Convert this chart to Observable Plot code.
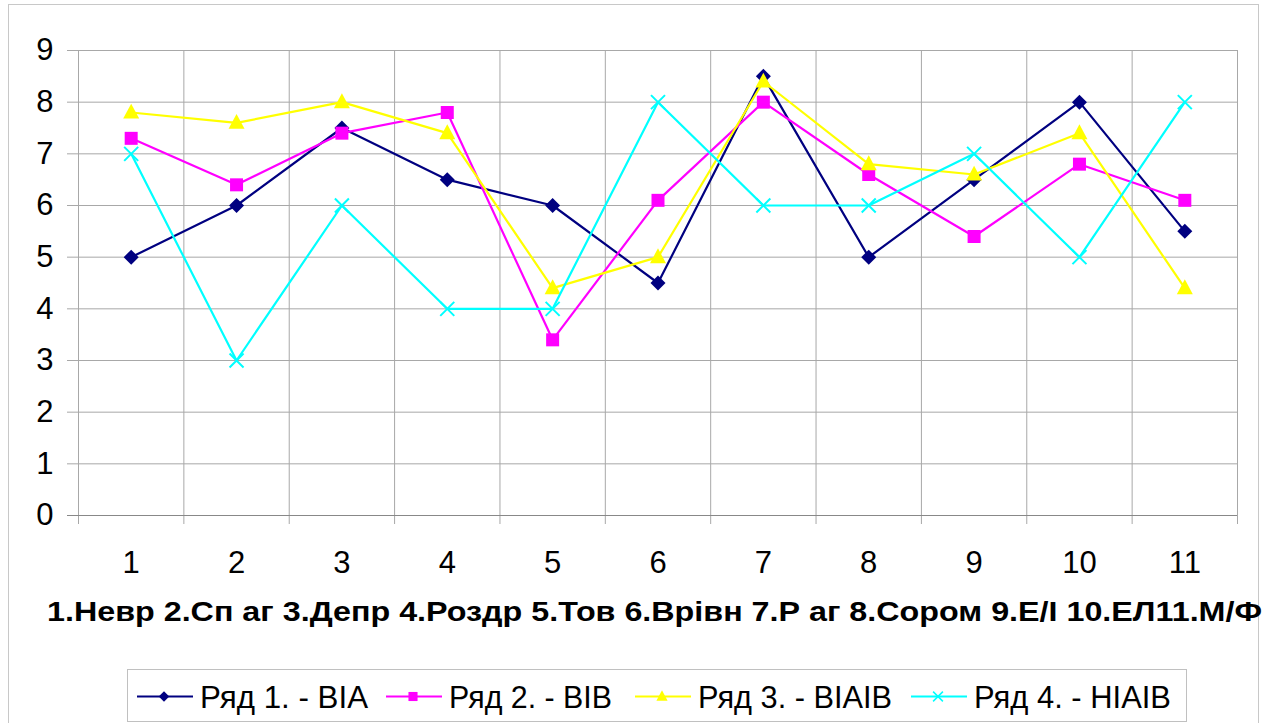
<!DOCTYPE html>
<html><head><meta charset="utf-8">
<script src="https://cdn.jsdelivr.net/npm/d3@7"></script>
<script src="https://cdn.jsdelivr.net/npm/@observablehq/plot@0.6"></script>
<style>
html,body{margin:0;padding:0;background:#fff;width:1267px;height:723px;overflow:hidden;font-family:"Liberation Sans",Arial,sans-serif;}
#frame{position:absolute;left:8px;top:4px;width:1251px;height:740px;border:1px solid #c8c8c8;box-sizing:border-box;}
#chart{position:absolute;left:0;top:0;}
#overlay{position:absolute;left:0;top:0;}
</style></head><body>
<div id="frame"></div>
<div id="chart"></div>
<svg id="overlay" width="1267" height="723"></svg>
<script>
// ---- data ----
const categories = [1, 2, 3, 4, 5, 6, 7, 8, 9, 10, 11];
const seriesNames = ["Ряд 1. - ВІА", "Ряд 2. - ВІВ", "Ряд 3. - ВІАІВ", "Ряд 4. - НІАІВ"];
const s1 = [5, 6, 7.5, 6.5, 6, 4.5, 8.5, 5, 6.5, 8, 5.5];
const s2 = [7.3, 6.4, 7.4, 7.8, 3.4, 6.1, 8, 6.6, 5.4, 6.8, 6.1];
const s3 = [7.8, 7.6, 8, 7.4, 4.4, 5, 8.4, 6.8, 6.6, 7.4, 4.4];
const s4 = [7, 3, 6, 4, 4, 8, 6, 6, 7, 5, 8];
const yTicks = [0, 1, 2, 3, 4, 5, 6, 7, 8, 9];
const xAxisTitle = "1.Невр 2.Сп аг 3.Депр 4.Роздр 5.Тов 6.Врівн 7.Р аг 8.Сором 9.Е/І 10.ЕЛ11.М/Ф";

// ---- styles ----
const colors = ["#000080", "#ff00ff", "#ffff00", "#00ffff"];
const symDiamond = {draw(ctx, size){const r=Math.sqrt(size/Math.PI); ctx.moveTo(0,-r); ctx.lineTo(r,0); ctx.lineTo(0,r); ctx.lineTo(-r,0); ctx.closePath();}};
const symSquare = {draw(ctx, size){const r=Math.sqrt(size/Math.PI); ctx.moveTo(-r,-r); ctx.lineTo(r,-r); ctx.lineTo(r,r); ctx.lineTo(-r,r); ctx.closePath();}};
const symTriangle = {draw(ctx, size){const r=Math.sqrt(size/Math.PI); ctx.moveTo(0,-r*1.1); ctx.lineTo(r,r*0.75); ctx.lineTo(-r,r*0.75); ctx.closePath();}};
const symTimes = {draw(ctx, size){const r=Math.sqrt(size/Math.PI); ctx.moveTo(-r,-r); ctx.lineTo(r,r); ctx.moveTo(r,-r); ctx.lineTo(-r,r);}};
const symbols = [symDiamond, symSquare, symTriangle, symTimes];
const radii = [7.5, 6.5, 8, 7];

const allSeries = [s1, s2, s3, s4];
const boundaries = [categories[0] - 0.5, ...categories.map(c => c + 0.5)];

const seriesMarks = allSeries.flatMap((vals, k) => {
  const rows = categories.map((c, i) => ({cat: c, val: vals[i]}));
  const dotOpts = k === 3
    ? {x: "cat", y: "val", symbol: symbols[k], r: radii[k], fill: "none", stroke: colors[k], strokeWidth: 2}
    : {x: "cat", y: "val", symbol: symbols[k], r: radii[k], fill: colors[k], stroke: "none"};
  return [
    Plot.line(rows, {x: "cat", y: "val", stroke: colors[k], strokeWidth: 2.2}),
    Plot.dot(rows, dotOpts)
  ];
});

const chart = Plot.plot({
  width: 1267, height: 580,
  marginLeft: 78, marginRight: 30, marginTop: 50, marginBottom: 65,
  style: {fontFamily: "'Liberation Sans', Arial, sans-serif", background: "transparent", color: "#000"},
  x: {domain: [boundaries[0], boundaries[boundaries.length - 1]], label: null},
  y: {domain: [0, 9], label: null},
  marks: [
    Plot.ruleY(yTicks.filter(t => t > 0), {stroke: "#a8a8a8", strokeWidth: 1, insetLeft: -11}),
    Plot.ruleX(boundaries, {stroke: "#a8a8a8", strokeWidth: 1, insetBottom: -9}),
    Plot.ruleY([0], {stroke: "#888", strokeWidth: 1, insetLeft: -11}),
    Plot.axisY({ticks: yTicks, tickSize: 0, tickPadding: 25, fontSize: 31, label: null}),
    Plot.axisX({ticks: categories, tickSize: 0, tickPadding: 35, fontSize: 31, label: null}),
    ...seriesMarks
  ]
});
// enlarge axis tick labels
d3.select(chart).selectAll('g[aria-label$="tick label"]').style("font-size", "31px")
  .selectAll("text").style("font-size", "31px");
document.getElementById("chart").appendChild(chart);

// ---- x-axis title & legend ----
const ov = d3.select("#overlay");
ov.append("text")
  .attr("x", 47).attr("y", 621)
  .attr("font-weight", "bold").attr("font-size", 28)
  .attr("textLength", 1215).attr("lengthAdjust", "spacingAndGlyphs")
  .attr("fill", "#000")
  .text(xAxisTitle);

ov.append("rect").attr("x", 127.5).attr("y", 669.5).attr("width", 1059).attr("height", 52)
  .attr("fill", "#fff").attr("stroke", "#c0c0c0");

const legendX = [137, 386, 635, 911];
const legendTextW = [168, 163, 194, 197];
const legendY = 696.5;
seriesNames.forEach((name, k) => {
  const x0 = legendX[k];
  const g = ov.append("g");
  g.append("line").attr("x1", x0).attr("x2", x0 + 56).attr("y1", legendY).attr("y2", legendY)
    .attr("stroke", colors[k]).attr("stroke-width", 2);
  const rr = radii[k] * 0.7;
  const p = g.append("path")
    .attr("transform", `translate(${x0 + 27},${legendY})`)
    .attr("d", d3.symbol().type(symbols[k]).size(Math.PI * rr * rr)());
  if (k === 3) p.attr("fill", "none").attr("stroke", colors[k]).attr("stroke-width", 1.5);
  else p.attr("fill", colors[k]);
  g.append("text").attr("x", x0 + 63).attr("y", legendY + 11)
    .attr("font-size", 31).attr("fill", "#000")
    .attr("textLength", legendTextW[k]).attr("lengthAdjust", "spacingAndGlyphs")
    .text(name);
});
</script>
</body></html>
